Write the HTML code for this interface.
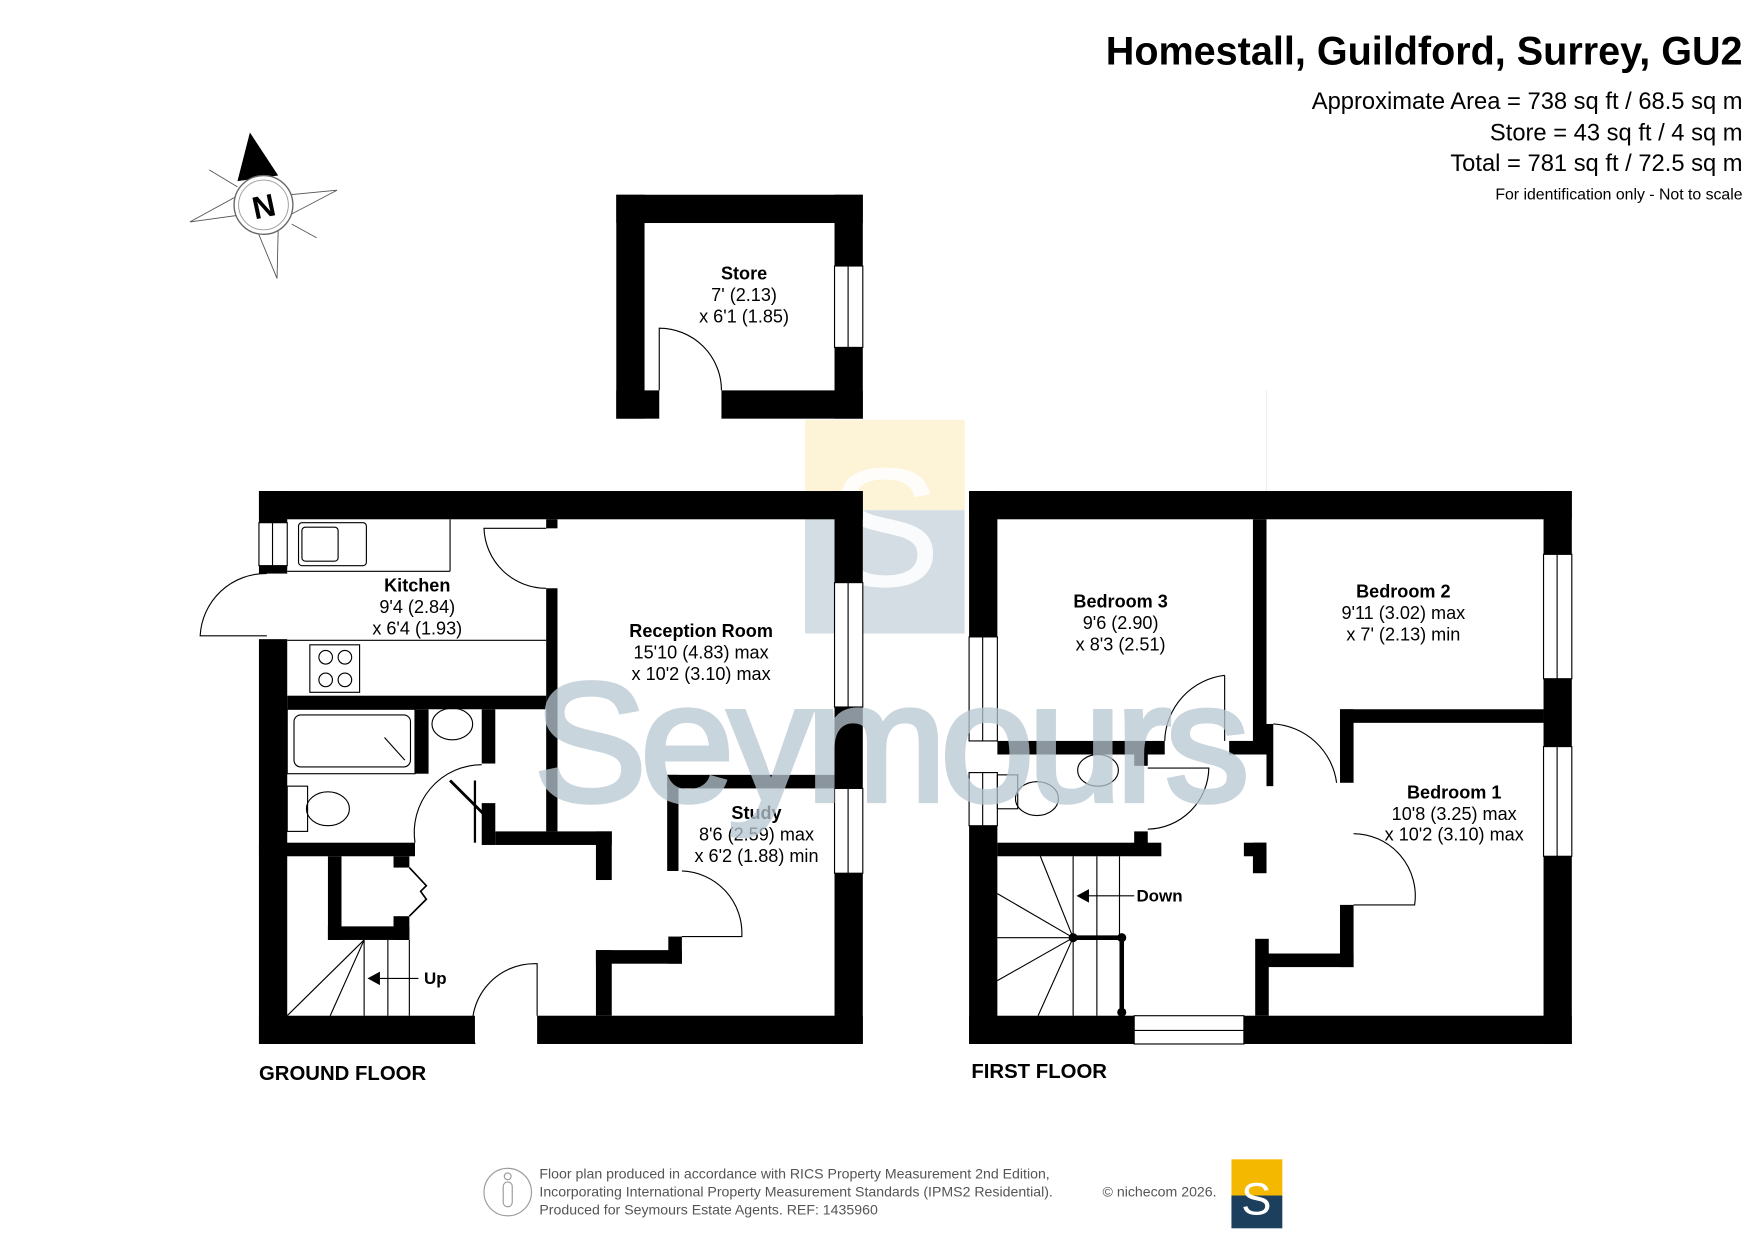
<!DOCTYPE html>
<html><head><meta charset="utf-8"><style>
html,body{margin:0;padding:0;background:#fff;}
svg{display:block;}
text{font-family:"Liberation Sans",sans-serif;}
</style></head><body>
<svg width="1755" height="1241" viewBox="0 0 1552 1097" xmlns="http://www.w3.org/2000/svg">
<rect width="1552" height="1097" fill="#fff"/>
<rect x="712" y="371" width="141" height="80" fill="#fdf3d6"/>
<rect x="712" y="451" width="141" height="109" fill="#d3dde3"/>
<text x="782" y="518" font-family="Liberation Serif,serif" font-size="150" fill="#fff" text-anchor="middle" opacity="0.9">S</text>
<line x1="1120" y1="345" x2="1120" y2="434" stroke="#eee" stroke-width="1"/>

<text x="1541" y="57" font-size="35" font-weight="bold" text-anchor="end" fill="#000">Homestall, Guildford, Surrey, GU2</text>
<text x="1541" y="96" font-size="21" text-anchor="end">Approximate Area = 738 sq ft / 68.5 sq m</text>
<text x="1541" y="124" font-size="21" text-anchor="end">Store = 43 sq ft / 4 sq m</text>
<text x="1541" y="151" font-size="21" text-anchor="end">Total = 781 sq ft / 72.5 sq m</text>
<text x="1541" y="176" font-size="14" text-anchor="end">For identification only - Not to scale</text>

<g stroke="#555" stroke-width="0.8" fill="none">
<polygon points="168,196 210,173 212,190"/>
<polygon points="298,168 256,172 258,189"/>
<polygon points="245,246 228,205 246,203"/>
<line x1="210" y1="165" x2="185" y2="150"/>
<line x1="258" y1="198" x2="280" y2="210"/>
</g>
<polygon points="221,117 210,160 246,155" fill="#000"/>
<circle cx="233" cy="181" r="26" fill="#fff" stroke="#666" stroke-width="1.2"/>
<circle cx="233" cy="181" r="22" fill="none" stroke="#999" stroke-width="0.8"/>
<text x="233" y="192" font-size="28" font-weight="bold" text-anchor="middle" transform="rotate(-12 233 181)">N</text>

<g fill="#000">
<rect x="545" y="172" width="218" height="25"/>
<rect x="545" y="172" width="25" height="198"/>
<rect x="738" y="172" width="25" height="63"/>
<rect x="738" y="307" width="25" height="63"/>
<rect x="545" y="345" width="38" height="25"/>
<rect x="638" y="345" width="125" height="25"/>
</g>
<rect x="738" y="235" width="25" height="72" fill="#fff" stroke="#000" stroke-width="1"/>
<line x1="750" y1="235" x2="750" y2="307" stroke="#000" stroke-width="1"/>
<path d="M583,345 L583,290 A55,55 0 0 1 638,345" fill="none" stroke="#000" stroke-width="1"/>
<text x="658" y="247" font-size="16" font-weight="bold" text-anchor="middle">Store</text>
<text x="658" y="266" font-size="16" text-anchor="middle">7' (2.13)</text>
<text x="658" y="285" font-size="16" text-anchor="middle">x 6'1 (1.85)</text>

<g fill="#000">
<rect x="229" y="434" width="534" height="25"/>
<rect x="229" y="434" width="25" height="28"/>
<rect x="229" y="500" width="25" height="7"/>
<rect x="229" y="565" width="25" height="358"/>
<rect x="229" y="898" width="191" height="25"/>
<rect x="475" y="898" width="288" height="25"/>
<rect x="738" y="434" width="25" height="81"/>
<rect x="738" y="625" width="25" height="72"/>
<rect x="738" y="772" width="25" height="151"/>
<rect x="483" y="459" width="10" height="8"/>
<rect x="483" y="520" width="10" height="215"/>
<rect x="254" y="615" width="229" height="12"/>
<rect x="367" y="627" width="12" height="57"/>
<rect x="426" y="627" width="12" height="48"/>
<rect x="426" y="710" width="12" height="37"/>
<rect x="438" y="735" width="103" height="12"/>
<rect x="527" y="735" width="14" height="43"/>
<rect x="229" y="745" width="138" height="12"/>
<rect x="290" y="757" width="12" height="74"/>
<rect x="290" y="819" width="72" height="12"/>
<rect x="348" y="757" width="14" height="10"/>
<rect x="348" y="810" width="14" height="21"/>
<rect x="590" y="685" width="148" height="12"/>
<rect x="590" y="685" width="10" height="85"/>
<rect x="527" y="840" width="14" height="58"/>
<rect x="527" y="840" width="76" height="12"/>
<rect x="591" y="828" width="12" height="24"/>
</g>
<g fill="#fff" stroke="#000" stroke-width="1">
<rect x="229" y="462" width="25" height="38"/>
<rect x="738" y="515" width="25" height="110"/>
<rect x="738" y="697" width="25" height="75"/>
</g>
<g stroke="#000" stroke-width="1" fill="none">
<line x1="241" y1="462" x2="241" y2="500"/>
<line x1="750" y1="515" x2="750" y2="625"/>
<line x1="750" y1="697" x2="750" y2="772"/>
<path d="M236,507 A58,58 0 0 0 177,562 L236,562"/>
<path d="M483,467 L428,467 A55,55 0 0 0 483,520"/>
<path d="M420,923 A55,55 0 0 1 475,852 L475,898"/>
<path d="M603,770 A55,55 0 0 1 656,828 L603,828"/>
<path d="M367,745 A60,60 0 0 1 426,676"/>
<line x1="398" y1="690" x2="428" y2="720" stroke-width="2.5"/>
<line x1="420" y1="690" x2="420" y2="745" stroke-width="2"/>
<path d="M362,767 L377,783 L372,788 L377,795 L362,810" stroke-width="1.5"/>
<line x1="322" y1="831" x2="322" y2="898"/>
<line x1="343" y1="831" x2="343" y2="898"/>
<line x1="362" y1="831" x2="362" y2="898"/>
<line x1="322" y1="831" x2="254" y2="898"/>
<line x1="322" y1="831" x2="292" y2="898"/>
<line x1="336" y1="865" x2="370" y2="865"/>
<line x1="254" y1="505" x2="398" y2="505"/>
<line x1="398" y1="459" x2="398" y2="505"/>
<line x1="254" y1="566" x2="483" y2="566"/>
<rect x="264" y="462" width="60" height="38" rx="3"/>
<rect x="267" y="466" width="32" height="30" rx="3"/>
<rect x="274" y="570" width="44" height="42"/>
<circle cx="288" cy="581" r="6"/><circle cx="305" cy="581" r="6"/>
<circle cx="288" cy="601" r="6"/><circle cx="305" cy="601" r="6"/>
<rect x="254" y="627" width="113" height="57"/>
<rect x="260" y="632" width="103" height="46" rx="6"/>
<line x1="340" y1="652" x2="358" y2="672"/>
<ellipse cx="400" cy="640" rx="18" ry="14"/>
<rect x="254" y="695" width="18" height="40"/>
<ellipse cx="290" cy="715" rx="19" ry="15"/>
</g>
<polygon points="325,865 336,859 336,871" fill="#000"/>
<text x="375" y="870" font-size="15" font-weight="bold">Up</text>

<text x="369" y="523" font-size="16" font-weight="bold" text-anchor="middle">Kitchen</text>
<text x="369" y="542" font-size="16" text-anchor="middle">9'4 (2.84)</text>
<text x="369" y="561" font-size="16" text-anchor="middle">x 6'4 (1.93)</text>
<text x="620" y="563" font-size="16" font-weight="bold" text-anchor="middle">Reception Room</text>
<text x="620" y="582" font-size="16" text-anchor="middle">15'10 (4.83) max</text>
<text x="620" y="601" font-size="16" text-anchor="middle">x 10'2 (3.10) max</text>
<text x="669" y="724" font-size="16" font-weight="bold" text-anchor="middle">Study</text>
<text x="669" y="743" font-size="16" text-anchor="middle">8'6 (2.59) max</text>
<text x="669" y="762" font-size="16" text-anchor="middle">x 6'2 (1.88) min</text>
<text x="229" y="955" font-size="18" font-weight="bold">GROUND FLOOR</text>

<g fill="#000">
<rect x="857" y="434" width="533" height="25"/>
<rect x="857" y="434" width="25" height="129"/>
<rect x="857" y="730" width="25" height="193"/>
<rect x="857" y="898" width="146" height="25"/>
<rect x="1100" y="898" width="290" height="25"/>
<rect x="1365" y="434" width="25" height="56"/>
<rect x="1365" y="600" width="25" height="60"/>
<rect x="1365" y="757" width="25" height="166"/>
<rect x="1108" y="459" width="12" height="206"/>
<rect x="1087" y="655" width="33" height="12"/>
<rect x="1108" y="745" width="12" height="27"/>
<rect x="1100" y="745" width="20" height="12"/>
<rect x="1120" y="640" width="6" height="55"/>
<rect x="1185" y="627" width="180" height="12"/>
<rect x="1185" y="627" width="12" height="65"/>
<rect x="1185" y="800" width="12" height="55"/>
<rect x="1120" y="843" width="77" height="12"/>
<rect x="1110" y="830" width="12" height="68"/>
<rect x="882" y="655" width="148" height="12"/>
<rect x="882" y="745" width="145" height="12"/>
<rect x="1003" y="667" width="12" height="10"/>
<rect x="1003" y="735" width="12" height="12"/>
</g>
<g fill="#fff" stroke="#000" stroke-width="1">
<rect x="857" y="563" width="25" height="92"/>
<rect x="857" y="683" width="25" height="47"/>
<rect x="1365" y="490" width="25" height="110"/>
<rect x="1365" y="660" width="25" height="97"/>
<rect x="1003" y="898" width="97" height="25"/>
</g>
<g stroke="#000" stroke-width="1" fill="none">
<line x1="869" y1="563" x2="869" y2="655"/>
<line x1="869" y1="683" x2="869" y2="730"/>
<line x1="1377" y1="490" x2="1377" y2="600"/>
<line x1="1377" y1="660" x2="1377" y2="757"/>
<line x1="1003" y1="911" x2="1100" y2="911"/>
<path d="M1083,597 A60,60 0 0 0 1030,655"/>
<line x1="1083" y1="597" x2="1083" y2="655"/>
<path d="M1015,679 L1069,679 A55,55 0 0 1 1015,733"/>
<path d="M1126,640 A60,60 0 0 1 1182,692"/>
<path d="M1197,737 A55,55 0 0 1 1251,800 L1197,800"/>
<line x1="949" y1="757" x2="949" y2="898"/>
<line x1="970" y1="757" x2="970" y2="898"/>
<line x1="990" y1="757" x2="990" y2="829"/>
<line x1="949" y1="829" x2="920" y2="757"/>
<line x1="949" y1="829" x2="882" y2="790"/>
<line x1="949" y1="829" x2="882" y2="829"/>
<line x1="949" y1="829" x2="882" y2="867"/>
<line x1="949" y1="829" x2="918" y2="898"/>
<line x1="960" y1="792" x2="1003" y2="792"/>
<line x1="949" y1="829" x2="992" y2="829" stroke-width="4"/>
<line x1="992" y1="829" x2="992" y2="895" stroke-width="4"/>
<ellipse cx="971" cy="681" rx="18" ry="14"/>
<rect x="882" y="685" width="18" height="30"/>
<ellipse cx="917" cy="706" rx="19" ry="15"/>
</g>
<circle cx="949" cy="829" r="4" fill="#000"/><circle cx="992" cy="829" r="4" fill="#000"/><circle cx="992" cy="895" r="4" fill="#000"/>
<polygon points="952,792 963,786 963,798" fill="#000"/>
<text x="1005" y="797" font-size="15" font-weight="bold">Down</text>

<text x="991" y="537" font-size="16" font-weight="bold" text-anchor="middle">Bedroom 3</text>
<text x="991" y="556" font-size="16" text-anchor="middle">9'6 (2.90)</text>
<text x="991" y="575" font-size="16" text-anchor="middle">x 8'3 (2.51)</text>
<text x="1241" y="528" font-size="16" font-weight="bold" text-anchor="middle">Bedroom 2</text>
<text x="1241" y="547" font-size="16" text-anchor="middle">9'11 (3.02) max</text>
<text x="1241" y="566" font-size="16" text-anchor="middle">x 7' (2.13) min</text>
<text x="1286" y="706" font-size="16" font-weight="bold" text-anchor="middle">Bedroom 1</text>
<text x="1286" y="725" font-size="16" text-anchor="middle">10'8 (3.25) max</text>
<text x="1286" y="743" font-size="16" text-anchor="middle">x 10'2 (3.10) max</text>
<text x="859" y="953" font-size="18" font-weight="bold">FIRST FLOOR</text>

<text x="472" y="708" font-size="150" fill="#b8c7d2" stroke="#b8c7d2" stroke-width="4" opacity="0.75" letter-spacing="-6">Seymours</text>

<circle cx="449" cy="1054" r="21" fill="none" stroke="#999" stroke-width="1"/>
<circle cx="449" cy="1040" r="3" fill="none" stroke="#999"/>
<rect x="445" y="1045" width="8" height="22" rx="4" fill="none" stroke="#999"/>
<text x="477" y="1042" font-size="12.5" fill="#555">Floor plan produced in accordance with RICS Property Measurement 2nd Edition,</text>
<text x="477" y="1058" font-size="12.5" fill="#555">Incorporating International Property Measurement Standards (IPMS2 Residential).</text>
<text x="477" y="1074" font-size="12.5" fill="#555">Produced for Seymours Estate Agents.   REF: 1435960</text>
<text x="975" y="1058" font-size="12.5" fill="#555">© nichecom 2026.</text>
<rect x="1089" y="1025" width="45" height="32" fill="#f5b800"/>
<rect x="1089" y="1057" width="45" height="29" fill="#1d3f5e"/>
<text x="1111" y="1074" font-size="40" font-family="Liberation Serif,serif" fill="#fff" text-anchor="middle">S</text>
</svg>
</body></html>
